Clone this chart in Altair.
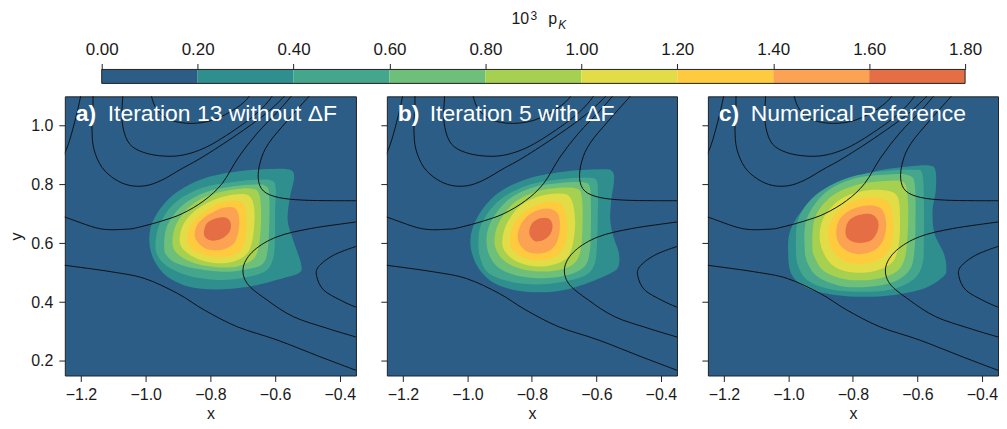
import altair as alt
import pandas as pd

# ---------------- axes / scales ----------------
X_DOMAIN = [-1.25, -0.35]
Y_DOMAIN = [0.15, 1.10]
X_TICKS = [-1.2, -1.0, -0.8, -0.6, -0.4]
Y_TICKS = [0.2, 0.4, 0.6, 0.8, 1.0]

BAND_EDGES = [0.0, 0.2, 0.4, 0.6, 0.8, 1.0, 1.2, 1.4, 1.6, 1.8]
BAND_NAMES = ["0.0", "0.2", "0.4", "0.6", "0.8", "1.0", "1.2", "1.4", "1.6"]
BAND_COLORS = ["#2b5d86", "#2e8f8e", "#44a68c", "#6dbf79", "#a6d04f",
               "#e2dc46", "#fecb3f", "#fca353", "#e56e45"]
CBAR_DOMAIN = [-0.0769, 1.8603]

PANEL_TAGS = ["a)", "b)", "c)"]
PANEL_TEXTS = ["Iteration 13 without \u0394F", "Iteration 5 with \u0394F", "Numerical Reference"]

# ---------------- density contour levels (x, y) ----------------
A_02 = [(-0.989, 0.610), (-0.974, 0.684), (-0.917, 0.763), (-0.825, 0.819), (-0.713, 0.845), (-0.610, 0.853),
        (-0.554, 0.850), (-0.541, 0.825), (-0.554, 0.757), (-0.561, 0.678), (-0.544, 0.610), (-0.520, 0.531),
        (-0.526, 0.499), (-0.590, 0.477), (-0.682, 0.452), (-0.784, 0.443), (-0.866, 0.452), (-0.933, 0.486),
        (-0.974, 0.542)]
A_04 = [(-0.970, 0.593), (-0.956, 0.667), (-0.907, 0.740), (-0.825, 0.789), (-0.733, 0.808), (-0.661, 0.816),
        (-0.610, 0.814), (-0.598, 0.786), (-0.600, 0.712), (-0.600, 0.622), (-0.605, 0.554), (-0.626, 0.508),
        (-0.682, 0.486), (-0.764, 0.475), (-0.856, 0.486), (-0.923, 0.514), (-0.958, 0.548)]
A_06 = [(-0.943, 0.593), (-0.933, 0.661), (-0.887, 0.729), (-0.815, 0.774), (-0.733, 0.793), (-0.661, 0.800),
        (-0.626, 0.793), (-0.618, 0.757), (-0.618, 0.667), (-0.623, 0.576), (-0.639, 0.529), (-0.692, 0.511),
        (-0.764, 0.503), (-0.846, 0.514), (-0.907, 0.533), (-0.936, 0.559)]
A_08 = [(-0.917, 0.597), (-0.907, 0.661), (-0.866, 0.723), (-0.805, 0.763), (-0.733, 0.782), (-0.672, 0.786),
        (-0.649, 0.766), (-0.643, 0.689), (-0.649, 0.599), (-0.666, 0.548), (-0.713, 0.522), (-0.774, 0.518),
        (-0.846, 0.531), (-0.897, 0.559)]
A_10 = [(-0.894, 0.601), (-0.885, 0.661), (-0.846, 0.712), (-0.789, 0.748), (-0.728, 0.766), (-0.682, 0.763),
        (-0.666, 0.729), (-0.664, 0.667), (-0.674, 0.593), (-0.697, 0.554), (-0.748, 0.533), (-0.810, 0.537),
        (-0.866, 0.563)]
A_12 = [(-0.871, 0.610), (-0.861, 0.661), (-0.825, 0.701), (-0.774, 0.735), (-0.728, 0.746), (-0.697, 0.735),
        (-0.688, 0.689), (-0.690, 0.627), (-0.707, 0.576), (-0.748, 0.554), (-0.800, 0.556), (-0.851, 0.576)]
A_14 = [(-0.848, 0.622), (-0.838, 0.667), (-0.805, 0.698), (-0.759, 0.721), (-0.723, 0.718), (-0.711, 0.684),
        (-0.715, 0.631), (-0.733, 0.593), (-0.774, 0.576), (-0.820, 0.585)]
A_16 = [(-0.820, 0.639), (-0.810, 0.669), (-0.779, 0.686), (-0.752, 0.687), (-0.737, 0.669), (-0.741, 0.639),
        (-0.764, 0.616), (-0.794, 0.609), (-0.815, 0.619)]

B_02 = [(-0.991, 0.610), (-0.969, 0.689), (-0.907, 0.769), (-0.815, 0.819), (-0.692, 0.845), (-0.580, 0.852),
        (-0.551, 0.845), (-0.545, 0.814), (-0.554, 0.746), (-0.557, 0.678), (-0.547, 0.622), (-0.530, 0.565),
        (-0.532, 0.520), (-0.554, 0.499), (-0.610, 0.472), (-0.692, 0.443), (-0.774, 0.433), (-0.856, 0.441),
        (-0.928, 0.472), (-0.974, 0.531)]
B_04 = [(-0.966, 0.597), (-0.956, 0.667), (-0.902, 0.746), (-0.815, 0.797), (-0.713, 0.818), (-0.626, 0.823),
        (-0.600, 0.814), (-0.595, 0.769), (-0.596, 0.678), (-0.598, 0.599), (-0.605, 0.531), (-0.633, 0.491),
        (-0.702, 0.469), (-0.784, 0.460), (-0.866, 0.469), (-0.933, 0.497), (-0.958, 0.542)]
B_06 = [(-0.940, 0.590), (-0.930, 0.667), (-0.876, 0.746), (-0.800, 0.789), (-0.713, 0.805), (-0.639, 0.807),
        (-0.620, 0.791), (-0.617, 0.735), (-0.617, 0.655), (-0.620, 0.576), (-0.636, 0.522), (-0.692, 0.491),
        (-0.774, 0.481), (-0.856, 0.493), (-0.912, 0.525)]
B_08 = [(-0.915, 0.593), (-0.904, 0.667), (-0.856, 0.737), (-0.784, 0.777), (-0.713, 0.789), (-0.659, 0.786),
        (-0.645, 0.757), (-0.643, 0.667), (-0.649, 0.576), (-0.672, 0.529), (-0.733, 0.506), (-0.815, 0.508),
        (-0.882, 0.537)]
B_10 = [(-0.892, 0.599), (-0.878, 0.667), (-0.835, 0.729), (-0.774, 0.761), (-0.713, 0.769), (-0.679, 0.752),
        (-0.666, 0.678), (-0.674, 0.593), (-0.697, 0.545), (-0.759, 0.522), (-0.825, 0.529), (-0.871, 0.556)]
B_12 = [(-0.868, 0.605), (-0.856, 0.667), (-0.815, 0.714), (-0.759, 0.740), (-0.711, 0.735), (-0.692, 0.689),
        (-0.694, 0.612), (-0.718, 0.563), (-0.769, 0.542), (-0.820, 0.550), (-0.856, 0.574)]
B_14 = [(-0.844, 0.616), (-0.833, 0.667), (-0.800, 0.704), (-0.754, 0.718), (-0.721, 0.703), (-0.713, 0.661),
        (-0.721, 0.608), (-0.748, 0.573), (-0.789, 0.565), (-0.825, 0.579)]
B_16 = [(-0.808, 0.633), (-0.800, 0.667), (-0.774, 0.685), (-0.748, 0.684), (-0.736, 0.661), (-0.743, 0.631),
        (-0.766, 0.610), (-0.792, 0.608)]

C_02 = [(-1.001, 0.565), (-0.994, 0.644), (-0.948, 0.723), (-0.856, 0.797), (-0.743, 0.842), (-0.631, 0.861),
        (-0.564, 0.865), (-0.544, 0.848), (-0.543, 0.780), (-0.553, 0.712), (-0.547, 0.633), (-0.518, 0.565),
        (-0.510, 0.514), (-0.520, 0.486), (-0.579, 0.446), (-0.672, 0.424), (-0.764, 0.418), (-0.856, 0.424),
        (-0.938, 0.446), (-0.989, 0.491)]
C_04 = [(-0.977, 0.582), (-0.969, 0.684), (-0.917, 0.763), (-0.825, 0.819), (-0.713, 0.845), (-0.610, 0.850),
        (-0.585, 0.836), (-0.580, 0.746), (-0.580, 0.622), (-0.584, 0.531), (-0.612, 0.477), (-0.682, 0.443),
        (-0.774, 0.435), (-0.866, 0.443), (-0.938, 0.472), (-0.969, 0.520)]
C_06 = [(-0.950, 0.588), (-0.943, 0.684), (-0.887, 0.771), (-0.800, 0.819), (-0.692, 0.834), (-0.626, 0.831),
        (-0.608, 0.797), (-0.606, 0.667), (-0.610, 0.565), (-0.625, 0.508), (-0.672, 0.469), (-0.748, 0.452),
        (-0.835, 0.454), (-0.907, 0.484), (-0.940, 0.531)]
C_08 = [(-0.926, 0.593), (-0.917, 0.689), (-0.866, 0.760), (-0.784, 0.800), (-0.692, 0.812), (-0.641, 0.805),
        (-0.629, 0.735), (-0.631, 0.622), (-0.641, 0.542), (-0.670, 0.500), (-0.738, 0.477), (-0.820, 0.477),
        (-0.887, 0.503), (-0.917, 0.548)]
C_10 = [(-0.902, 0.605), (-0.892, 0.684), (-0.841, 0.748), (-0.769, 0.778), (-0.697, 0.780), (-0.661, 0.757),
        (-0.654, 0.678), (-0.659, 0.588), (-0.682, 0.531), (-0.743, 0.503), (-0.815, 0.503), (-0.871, 0.533)]
C_12 = [(-0.876, 0.612), (-0.866, 0.680), (-0.820, 0.732), (-0.759, 0.755), (-0.702, 0.748), (-0.678, 0.706),
        (-0.677, 0.622), (-0.697, 0.565), (-0.748, 0.533), (-0.810, 0.533), (-0.856, 0.565)]
C_14 = [(-0.851, 0.622), (-0.844, 0.676), (-0.805, 0.715), (-0.754, 0.729), (-0.713, 0.718), (-0.697, 0.673),
        (-0.704, 0.616), (-0.733, 0.576), (-0.784, 0.563), (-0.830, 0.582)]
C_16 = [(-0.823, 0.633), (-0.815, 0.673), (-0.784, 0.695), (-0.743, 0.699), (-0.723, 0.678), (-0.723, 0.644),
        (-0.743, 0.610), (-0.779, 0.601), (-0.810, 0.610)]

# ---------------- potential-energy contour lines (x, y) ----------------
LINE_A = [(-1.27, 0.87), (-1.245, 0.92), (-1.225, 0.99), (-1.205, 1.08), (-1.195, 1.14)]
LINE_B = [(-1.163, 1.14), (-1.163, 1.07), (-1.166, 0.99), (-1.160, 0.92), (-1.135, 0.858), (-1.095, 0.818),
          (-1.050, 0.797), (-1.000, 0.796), (-0.950, 0.815), (-0.890, 0.853), (-0.825, 0.893), (-0.720, 0.968),
          (-0.630, 1.040), (-0.565, 1.107), (-0.540, 1.14)]
LINE_MID = [(-1.071, 1.14), (-1.071, 1.10), (-1.073, 1.016), (-1.056, 0.948), (-1.020, 0.915), (-0.958, 0.898),
            (-0.886, 0.900), (-0.804, 0.932), (-0.700, 1.005), (-0.640, 1.060), (-0.605, 1.107), (-0.590, 1.14)]
LINE_IN = [(-0.985, 1.14), (-0.982, 1.10), (-0.965, 1.055), (-0.925, 1.020), (-0.860, 1.008), (-0.790, 1.020),
           (-0.720, 1.060), (-0.680, 1.100), (-0.665, 1.14)]
LINE_I = [(-1.27, 0.691), (-1.25, 0.689), (-1.143, 0.650), (-1.060, 0.648), (-1.020, 0.655), (-0.950, 0.676),
          (-0.887, 0.701), (-0.820, 0.745), (-0.764, 0.803), (-0.713, 0.893), (-0.655, 0.975), (-0.590, 1.050),
          (-0.545, 1.107), (-0.520, 1.14)]
LINE_V = [(-0.470, 1.14), (-0.490, 1.107), (-0.560, 1.020), (-0.620, 0.940), (-0.645, 0.880), (-0.652, 0.820),
          (-0.636, 0.778), (-0.590, 0.756), (-0.516, 0.747), (-0.420, 0.745), (-0.330, 0.745)]
LINE_III = [(-0.33, 0.675), (-0.353, 0.672), (-0.491, 0.650), (-0.594, 0.622), (-0.665, 0.576), (-0.698, 0.520),
            (-0.686, 0.463), (-0.625, 0.407), (-0.543, 0.350), (-0.440, 0.311), (-0.353, 0.282), (-0.33, 0.275)]
LINE_IV = [(-0.33, 0.592), (-0.353, 0.588), (-0.420, 0.559), (-0.466, 0.520), (-0.471, 0.486), (-0.450, 0.441),
           (-0.399, 0.407), (-0.353, 0.384), (-0.33, 0.378)]
LINE_II = [(-1.27, 0.528), (-1.249, 0.525), (-1.106, 0.503), (-1.003, 0.480), (-0.901, 0.429), (-0.819, 0.373),
           (-0.717, 0.316), (-0.594, 0.271), (-0.461, 0.214), (-0.353, 0.169), (-0.33, 0.160)]

PANEL_LEVELS = [
    [A_02, A_04, A_06, A_08, A_10, A_12, A_14, A_16],
    [B_02, B_04, B_06, B_08, B_10, B_12, B_14, B_16],
    [C_02, C_04, C_06, C_08, C_10, C_12, C_14, C_16],
]
POT_LINES = [LINE_A, LINE_B, LINE_MID, LINE_IN, LINE_I, LINE_V, LINE_III, LINE_IV, LINE_II]

FONT = "Liberation Sans"
color_scale = alt.Scale(domain=BAND_NAMES, range=BAND_COLORS)

rows = []
for k, pts in enumerate(POT_LINES):
    for i, (x, y) in enumerate(pts):
        rows.append({"line": k, "i": i, "x": x, "y": y})
lines_df = pd.DataFrame(rows)


def panel(idx, width, first):
    xenc = alt.X("x:Q", scale=alt.Scale(domain=X_DOMAIN, nice=False, zero=False),
                 axis=alt.Axis(values=X_TICKS, format=".1f", title="x", titlePadding=3, labelPadding=5))
    if first:
        yaxis = alt.Axis(values=Y_TICKS, format=".1f", title="y", titlePadding=6, labelPadding=6)
    else:
        yaxis = alt.Axis(values=Y_TICKS, labels=False, title=None)
    yenc = alt.Y("y:Q", scale=alt.Scale(domain=Y_DOMAIN, nice=False, zero=False), axis=yaxis)

    layers = []
    for lvl_name, pts in zip(BAND_NAMES[1:], PANEL_LEVELS[idx]):
        df = pd.DataFrame(pts, columns=["x", "y"])
        df["i"] = range(len(df))
        df["level"] = lvl_name
        layers.append(
            alt.Chart(df).mark_line(filled=True, interpolate="cardinal-closed").encode(
                x=xenc, y=yenc, order="i:Q",
                color=alt.Color("level:N", scale=color_scale, legend=None))
        )
    layers.append(
        alt.Chart(lines_df).mark_line(color="#111111", strokeWidth=1, clip=True, interpolate="cardinal").encode(
            x=xenc, y=yenc, detail="line:N", order="i:Q")
    )
    tag_df = pd.DataFrame({"t": [PANEL_TAGS[idx]]})
    txt_df = pd.DataFrame({"t": [PANEL_TEXTS[idx]]})
    layers.append(
        alt.Chart(tag_df).mark_text(align="left", baseline="alphabetic", font=FONT, fontSize=23,
                                    fontWeight="bold", color="white").encode(
            x=alt.value(11), y=alt.value(25), text="t:N")
    )
    layers.append(
        alt.Chart(txt_df).mark_text(align="left", baseline="alphabetic", font=FONT, fontSize=23,
                                    color="white").encode(
            x=alt.value(43), y=alt.value(25), text="t:N")
    )
    return alt.layer(*layers).properties(width=width, height=280)


# ---------------- colour bar ----------------
cb_df = pd.DataFrame({"lo": BAND_EDGES[:-1], "hi": BAND_EDGES[1:], "level": BAND_NAMES})
cb_x = alt.X("lo:Q", scale=alt.Scale(domain=CBAR_DOMAIN, nice=False, zero=False),
             axis=alt.Axis(orient="top", values=BAND_EDGES, format=".2f", title=None,
                           labelFontSize=17, labelPadding=5, tickSize=6))
bars = alt.Chart(cb_df).mark_rect().encode(
    x=cb_x, x2="hi:Q", color=alt.Color("level:N", scale=color_scale, legend=None))
frame_df = pd.DataFrame({"lo": [BAND_EDGES[0]], "hi": [BAND_EDGES[-1]]})
frame = alt.Chart(frame_df).mark_rect(fillOpacity=0, stroke="#222222", strokeWidth=1).encode(
    x=alt.X("lo:Q"), x2="hi:Q")

title_parts = [("10", 448, -46, 16, "normal"), ("3", 467, -50, 12, "normal"),
               ("p", 485, -46, 16, "normal"), ("K", 495, -41, 12, "italic")]
title_layers = []
for t, px, py, fs, style in title_parts:
    title_layers.append(
        alt.Chart(pd.DataFrame({"t": [t]})).mark_text(
            align="left", baseline="alphabetic", font=FONT, fontSize=fs, fontStyle=style, color="#1a1a1a"
        ).encode(x=alt.value(px), y=alt.value(py), text="t:N")
    )

cbar = alt.layer(bars, frame, *title_layers).properties(
    width=932, height=14,
    view=alt.ViewBackground(fill="transparent", stroke="transparent"))

panels = alt.hconcat(panel(0, 292, True), panel(1, 291, False), panel(2, 291, False), spacing=23)

chart = alt.vconcat(cbar, panels, spacing=11).properties(padding=0).configure_view(
    fill=BAND_COLORS[0], stroke="#222222", strokeWidth=1
).configure_axis(
    grid=False, domain=False, labelFont=FONT, titleFont=FONT, labelFontSize=16, titleFontSize=16,
    titleFontWeight="normal", labelColor="#1a1a1a", titleColor="#1a1a1a", tickColor="#222222",
    tickSize=6, tickWidth=1
)

chart.save("out.html", embed_options={"renderer": "svg", "actions": False})
